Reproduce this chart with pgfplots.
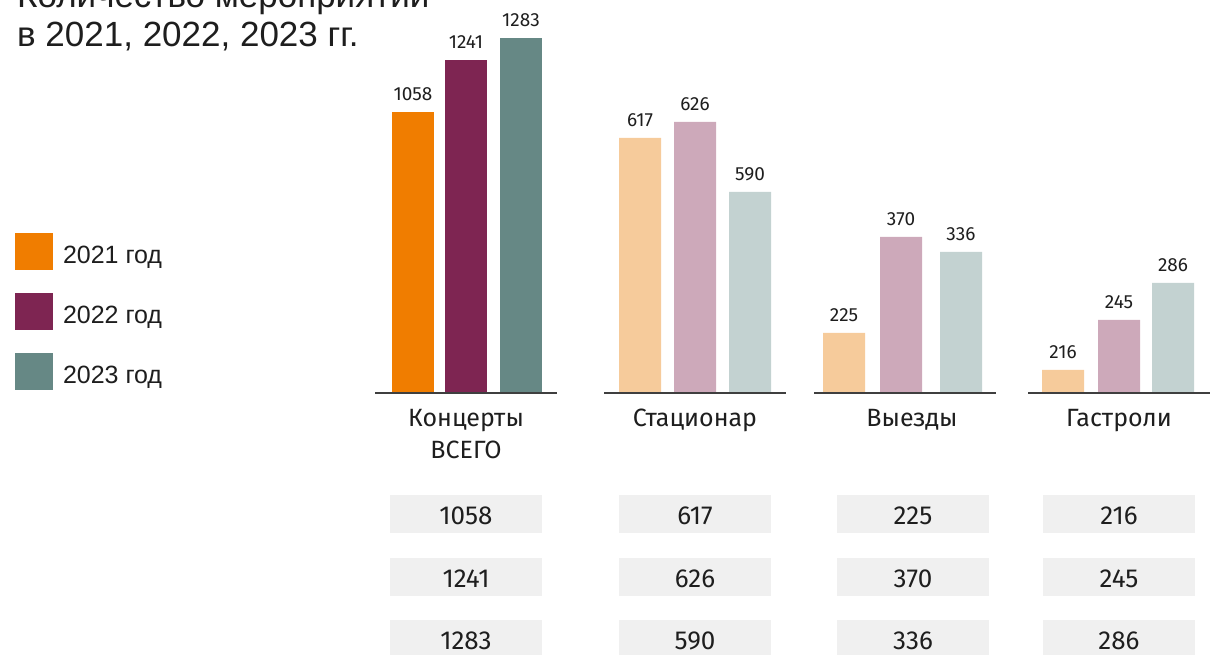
\documentclass[border=0pt]{standalone}
\usepackage{fontspec}
\setmainfont{Liberation Sans}
\newfontfamily\din{Fira Sans}
\usepackage{pgfplots}
\pgfplotsset{compat=1.18}
\usepackage{pgfplotstable}

\definecolor{c21}{HTML}{F07D00}
\definecolor{c22}{HTML}{7E2552}
\definecolor{c23}{HTML}{668885}
\definecolor{l21}{HTML}{F6CB9B}
\definecolor{l22}{HTML}{CDA9BA}
\definecolor{l23}{HTML}{C3D2D1}
\definecolor{boxg}{HTML}{F0F0F0}
\definecolor{basec}{HTML}{3F3F3F}
\definecolor{txt}{HTML}{1E1E1E}

% x = bar centre (px), h = drawn bar height (px), v = value
\pgfplotstableread{
x h v
413 281 1058
}\dA
\pgfplotstableread{
x h v
466 333 1241
}\dB
\pgfplotstableread{
x h v
521 355 1283
}\dC
\pgfplotstableread{
x h v
640 255 617
844 60 225
1063 23 216
}\lA
\pgfplotstableread{
x h v
695 271 626
901 156 370
1119 73 245
}\lB
\pgfplotstableread{
x h v
750 201 590
961 141 336
1173 110 286
}\lC

\newcommand\tcell[3]{% left x, baseline y, text
  \fill[boxg] (axis cs:#1,#2+29) rectangle (axis cs:#1+152,#2-9);
  \node[anchor=base, inner sep=0pt, text=txt, font=\din\fontsize{26}{26}\selectfont] at (axis cs:#1+76,#2) {#3};
}

\begin{document}
\begin{tikzpicture}
\begin{axis}[
  name=ax,
  width=1210pt, height=654pt, scale only axis,
  xmin=0, xmax=1210, ymin=-261, ymax=393,
  hide axis, clip=false,
  legend style={at={(axis cs:15,160)}, anchor=north west, draw=none, fill=none,
    inner sep=0pt, outer sep=0pt, row sep=23pt,
    font=\fontsize{25}{25}\selectfont, text=txt,
    nodes={inner sep=0pt},
    /tikz/every odd column/.append style={column sep=10pt}},
  legend cell align=left,
  legend image code/.code={\fill[#1] (0pt,-14pt) rectangle (38pt,23pt);},
  every node near coord/.append style={font=\din\fontsize{19}{19}\selectfont, text=txt,
    anchor=south, inner sep=0pt, yshift=11pt},
]
\addplot[ybar, bar width=42, bar shift=0pt, fill=c21, draw=none,
  nodes near coords={\pgfplotspointmeta}, point meta=explicit symbolic]
  table[x=x, y=h, meta=v] {\dA};
\addlegendentry{2021 год}
\addplot[ybar, bar width=42, bar shift=0pt, fill=c22, draw=none,
  nodes near coords={\pgfplotspointmeta}, point meta=explicit symbolic]
  table[x=x, y=h, meta=v] {\dB};
\addlegendentry{2022 год}
\addplot[ybar, bar width=42, bar shift=0pt, fill=c23, draw=none,
  nodes near coords={\pgfplotspointmeta}, point meta=explicit symbolic]
  table[x=x, y=h, meta=v] {\dC};
\addlegendentry{2023 год}
\addplot[ybar, bar width=42, bar shift=0pt, fill=l21, draw=none, forget plot,
  nodes near coords={\pgfplotspointmeta}, point meta=explicit symbolic]
  table[x=x, y=h, meta=v] {\lA};
\addplot[ybar, bar width=42, bar shift=0pt, fill=l22, draw=none, forget plot,
  nodes near coords={\pgfplotspointmeta}, point meta=explicit symbolic]
  table[x=x, y=h, meta=v] {\lB};
\addplot[ybar, bar width=42, bar shift=0pt, fill=l23, draw=none, forget plot,
  nodes near coords={\pgfplotspointmeta}, point meta=explicit symbolic]
  table[x=x, y=h, meta=v] {\lC};

% baselines
\draw[basec, line width=2pt] (axis cs:375,0) -- (axis cs:557,0);
\draw[basec, line width=2pt] (axis cs:604,0) -- (axis cs:786,0);
\draw[basec, line width=2pt] (axis cs:814,0) -- (axis cs:996,0);
\draw[basec, line width=2pt] (axis cs:1028,0) -- (axis cs:1212,0);

% title
\node[anchor=base west, inner sep=0pt, text=txt, font=\fontsize{35}{35}\selectfont]
  at (axis cs:17,385) {Количество мероприятий};
\node[anchor=base west, inner sep=0pt, text=txt, font=\fontsize{35}{35}\selectfont]
  at (axis cs:17,346) {в 2021, 2022, 2023 гг.};

% category labels
\node[anchor=base, inner sep=0pt, text=txt, font=\din\fontsize{25}{25}\selectfont] at (axis cs:466,-33) {Концерты};
\node[anchor=base, inner sep=0pt, text=txt, font=\din\fontsize{25}{25}\selectfont] at (axis cs:466,-65) {ВСЕГО};
\node[anchor=base, inner sep=0pt, text=txt, font=\din\fontsize{25}{25}\selectfont] at (axis cs:695,-33) {Стационар};
\node[anchor=base, inner sep=0pt, text=txt, font=\din\fontsize{25}{25}\selectfont] at (axis cs:912,-33) {Выезды};
\node[anchor=base, inner sep=0pt, text=txt, font=\din\fontsize{25}{25}\selectfont] at (axis cs:1119,-33) {Гастроли};

% value table
\tcell{390}{-131}{1058}
\tcell{390}{-194}{1241}
\tcell{390}{-256}{1283}
\tcell{619}{-131}{617}
\tcell{619}{-194}{626}
\tcell{619}{-256}{590}
\tcell{837}{-131}{225}
\tcell{837}{-194}{370}
\tcell{837}{-256}{336}
\tcell{1043}{-131}{216}
\tcell{1043}{-194}{245}
\tcell{1043}{-256}{286}
\end{axis}
\pgfresetboundingbox
\path[use as bounding box] (ax.south west) rectangle (ax.north east);
\end{tikzpicture}
\end{document}
